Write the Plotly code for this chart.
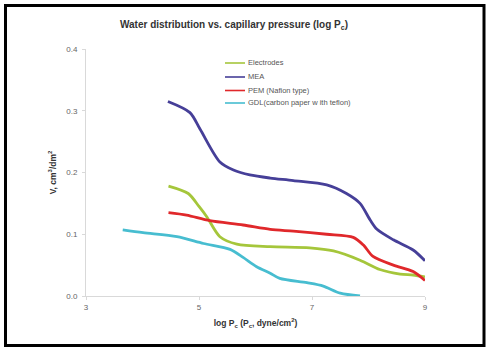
import plotly.graph_objects as go

# Data
mea_x = [4.45, 4.84, 5.02, 5.37, 5.61, 5.90, 6.26, 6.67, 7.26, 7.61, 7.85, 8.03, 8.15, 8.44, 8.79, 9.0]
mea_y = [0.315, 0.297, 0.270, 0.217, 0.204, 0.196, 0.191, 0.187, 0.180, 0.166, 0.150, 0.123, 0.108, 0.091, 0.0745, 0.057]

el_x = [4.46, 4.81, 5.0, 5.14, 5.37, 5.67, 6.26, 6.96, 7.38, 7.85, 8.20, 8.56, 8.79, 9.0]
el_y = [0.178, 0.166, 0.145, 0.128, 0.096, 0.084, 0.080, 0.078, 0.073, 0.058, 0.043, 0.0355, 0.034, 0.031]

pem_x = [4.46, 4.78, 5.19, 5.78, 6.26, 6.67, 7.26, 7.73, 7.91, 8.08, 8.44, 8.79, 9.0]
pem_y = [0.135, 0.131, 0.122, 0.115, 0.108, 0.105, 0.100, 0.095, 0.0825, 0.064, 0.050, 0.0395, 0.025]

gdl_x = [3.65, 4.01, 4.61, 5.08, 5.55, 5.78, 6.02, 6.26, 6.43, 6.91, 7.20, 7.50, 7.85]
gdl_y = [0.107, 0.1025, 0.096, 0.085, 0.0755, 0.0625, 0.0475, 0.037, 0.0285, 0.0215, 0.016, 0.0045, 0.0]

names = ["Electrodes", "MEA", "PEM (Nafion type)", "GDL(carbon paper w ith teflon)"]
colors = ["#A5C63B", "#463F98", "#E0282B", "#47BDD0"]
xs = [el_x, mea_x, pem_x, gdl_x]
ys = [el_y, mea_y, pem_y, gdl_y]

x_ticks = [3, 5, 7, 9]
y_ticks = [0.0, 0.1, 0.2, 0.3, 0.4]

# plot-area geometry in pixels (for paper-coordinate conversions)
PL, PR, PT, PB = 86, 425, 49, 296
PW, PH = PR - PL, PB - PT


def px_x(px):
    return (px - PL) / PW


def px_y(py):
    return (PB - py) / PH


fig = go.Figure()
for n, c, x, y in zip(names, colors, xs, ys):
    fig.add_trace(go.Scatter(x=x, y=y, name=n, mode="lines", showlegend=False,
                             line=dict(color=c, width=2.8, shape="spline", smoothing=0.8)))

font_family = "Liberation Sans, Arial, sans-serif"

fig.update_layout(
    width=494, height=353,
    margin=dict(l=PL, r=494 - PR, t=PT, b=353 - PB),
    paper_bgcolor="white", plot_bgcolor="white",
    font=dict(family=font_family, color="#555555", size=8),
    title=dict(text="<b>Water distribution vs. capillary pressure (log P<sub>c</sub>)</b>",
               x=234 / 494, xanchor="center", y=1 - 24 / 353, yanchor="middle",
               font=dict(size=10, color="#333333", family=font_family)),
    showlegend=False,
    xaxis=dict(range=[3, 9], tickvals=x_ticks, ticktext=[str(v) for v in x_ticks],
               showgrid=False, zeroline=False, showline=True, linecolor="#d9d9d9", linewidth=1,
               ticks="outside", ticklen=3, tickcolor="#d9d9d9",
               tickfont=dict(size=8, color="#666666"),
               title=dict(text="<b>log P<sub>c</sub> (P<sub>c</sub>, dyne/cm<sup>2</sup>)</b>",
                          font=dict(size=8.5, color="#333333"), standoff=9)),
    yaxis=dict(range=[0, 0.4], tickvals=y_ticks, ticktext=["%.1f" % v for v in y_ticks],
               showgrid=False, zeroline=False, showline=True, linecolor="#d9d9d9", linewidth=1,
               ticks="outside", ticklen=3, tickcolor="#d9d9d9", ticklabelstandoff=3,
               tickfont=dict(size=8, color="#666666"),
               title=dict(text="<b>V, cm<sup>3</sup>/dm<sup>2</sup></b>",
                          font=dict(size=8.5, color="#333333"), standoff=8)),
)

# compact legend (sample line + label) like the reference
legend_rows = [63, 77, 90.5, 103]
for n, c, ry in zip(names, colors, legend_rows):
    fig.add_shape(type="line", xref="paper", yref="paper",
                  x0=px_x(225), x1=px_x(245), y0=px_y(ry), y1=px_y(ry),
                  line=dict(color=c, width=1.6))
    fig.add_annotation(xref="paper", yref="paper", x=px_x(246), y=px_y(ry),
                       xanchor="left", yanchor="middle", showarrow=False,
                       text=n, font=dict(size=7.5, color="#555555"))

# black frame around the whole picture
fig.add_shape(type="rect", xref="paper", yref="paper",
              x0=px_x(5.5), x1=px_x(484), y0=px_y(345.5), y1=px_y(5.5),
              line=dict(color="black", width=3), fillcolor="rgba(0,0,0,0)", layer="above")

fig.write_html("out.html")
